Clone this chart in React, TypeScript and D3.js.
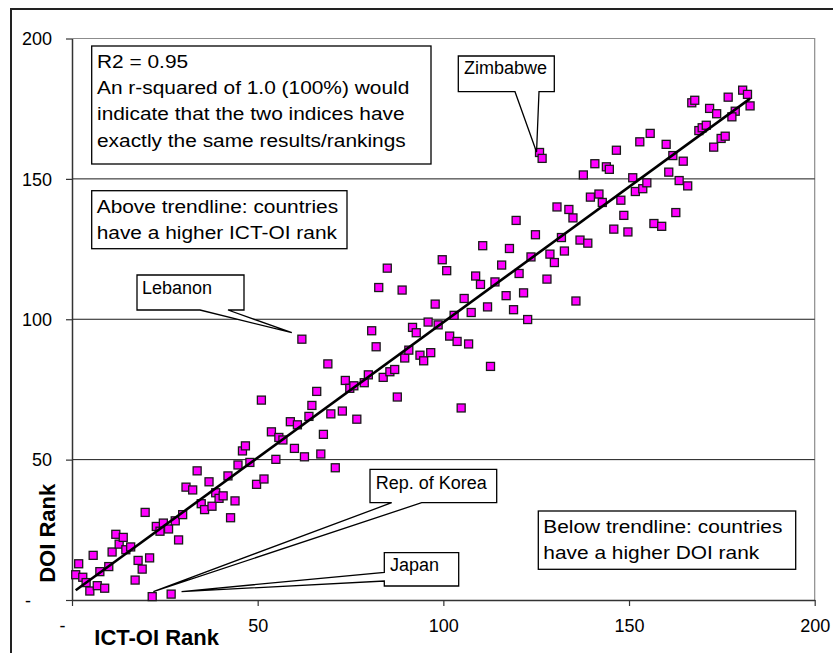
import React, { useEffect, useRef } from "react";
import * as d3 from "d3";

// ICT-OI rank (x) and DOI rank (y), one entry per country
const ictRank = [
  1.0, 1.8, 2.9, 3.8, 4.8, 5.7, 6.8, 7.5, 8.8, 9.9,
  10.8, 11.8, 12.7, 13.8, 14.5, 15.8, 17.0, 17.8, 18.9, 19.7,
  20.9, 21.6, 22.7, 23.7, 24.6, 26.0, 26.7, 27.8, 28.7, 29.8,
  30.7, 32.5, 33.7, 34.8, 35.7, 36.9, 37.7, 38.7, 39.6, 40.7,
  42.0, 42.7, 43.9, 44.7, 45.9, 46.7, 47.9, 49.7, 51.7, 51.0,
  53.7, 54.9, 55.7, 56.8, 58.8, 59.9, 60.7, 61.9, 62.6, 63.8,
  64.6, 65.9, 67.0, 67.7, 68.9, 69.7, 70.9, 72.8, 73.6, 74.8,
  75.9, 76.7, 78.7, 79.8, 80.7, 81.9, 83.8, 85.6, 86.9, 87.6,
  89.6, 90.7, 91.7, 92.7, 93.7,
  94.7, 96.6, 95.9, 98.6, 97.8, 101.7, 103.7, 102.9, 104.8, 105.6,
  106.8, 107.5, 84.9, 82.6, 88.9, 99.7, 100.9, 110.6, 108.7, 110.0,
  111.9, 112.7, 113.9, 115.7, 116.9, 117.8, 118.9, 120.4,
  125.9, 126.6, 119.6, 121.6, 123.6, 124.8, 127.9, 128.7, 129.9, 130.6,
  131.8, 132.6, 133.8, 134.9, 135.7, 136.8, 137.7, 138.9, 139.6, 140.8,
  141.9, 142.8, 143.9, 144.7, 145.9, 146.6, 147.8, 148.6, 149.7, 151.0,
  151.7, 152.9, 153.7, 154.8, 155.7, 156.7, 158.8, 160.0, 160.7, 161.8,
  162.6, 163.5, 122.7,
  164.6, 165.8, 166.9, 167.7, 171.7, 173.6, 176.7, 180.6, 181.9, 182.6,
  178.6, 177.7, 168.8, 169.7, 170.8, 172.8, 174.8, 175.9,
];
const doiRank = [
  9.0, 12.9, 8.1, 6.2, 3.2, 15.9, 5.1, 10.1, 4.2, 11.9,
  17.1, 23.4, 19.9, 22.3, 17.9, 18.9, 7.1, 14.1, 11.0, 31.2,
  15.0, 1.2, 26.2, 24.5, 27.4, 25.3, 2.1, 28.2, 21.4, 30.4,
  40.2, 39.2, 46.0, 34.3, 32.2, 42.1, 33.4, 38.2, 36.2, 37.1,
  44.2, 29.3, 35.3, 48.1, 53.1, 54.9, 49.0, 41.2, 43.1, 71.2,
  59.9, 50.1, 57.9, 57.0, 63.5, 54.0, 62.4, 92.9, 51.0, 65.4,
  69.3, 74.3, 52.0, 59.0, 84.1, 66.3, 47.1, 67.3, 78.2, 75.4,
  76.3, 64.4, 77.4, 80.2, 95.9, 90.2, 79.3, 81.3, 82.1, 72.3,
  86.2, 89.0, 97.1, 95.2, 87.2,
  85.2, 88.1, 99.0, 98.0, 105.4, 94.0, 92.1, 101.4, 68.4, 107.4,
  91.2, 102.4, 118.2, 111.3, 110.4, 121.2, 117.3, 126.2, 115.4, 112.4,
  104.4, 83.2, 113.3, 119.3, 108.4, 125.2, 103.4, 116.3,
  159.4, 157.3, 135.2, 109.4, 122.2, 130.1, 114.3, 123.2, 120.2, 140.0,
  129.1, 124.3, 139.1, 136.1, 106.5, 128.2, 151.4, 127.1, 143.5, 155.4,
  144.6, 141.6, 154.3, 153.4, 132.1, 160.2, 142.4, 137.0, 131.1, 150.4,
  145.5, 163.2, 146.5, 148.6, 166.2, 134.1, 133.1, 162.3, 152.4, 158.3,
  138.0, 149.4, 99.9,
  156.3, 147.5, 177.1, 178.0, 175.1, 173.2, 179.1, 181.6, 180.1, 176.0,
  174.1, 172.1, 167.2, 168.2, 169.1, 161.3, 164.4, 165.2,
];

const xTicks = [0, 50, 100, 150, 200];
const yTicks = [0, 50, 100, 150, 200];

// callouts: label and the point (ranks) the pointer tip sits on
const calloutLabels = ["Lebanon", "Zimbabwe", "Rep. of Korea", "Japan"];
const calloutTipIct = [59.2, 125.1, 21.9, 29.5];
const calloutTipDoi = [95.2, 159.6, 3.0, 3.0];

const noteR2 = [
  "R2 = 0.95",
  "An r-squared of 1.0 (100%) would",
  "indicate that the two indices have",
  "exactly the same results/rankings",
];
const noteAbove = ["Above trendline: countries", "have a higher ICT-OI rank"];
const noteBelow = ["Below trendline: countries", "have a higher DOI rank"];

export default function App() {
  const ref = useRef<SVGSVGElement>(null);

  useEffect(() => {
    const W = 833, H = 653;
    const font = "'Liberation Sans', Arial, sans-serif";
    const svg = d3.select(ref.current);
    svg.selectAll("*").remove();

    const x = d3.scaleLinear().domain([0, 200]).range([72, 814.7]);
    const y = d3.scaleLinear().domain([0, 200]).range([600, 38.5]);

    svg.append("rect").attr("width", W).attr("height", H).attr("fill", "#fff");

    // chart frame (runs off the right / bottom of the picture)
    svg.append("rect")
      .attr("x", 11).attr("y", 9).attr("width", W).attr("height", H)
      .attr("fill", "none").attr("stroke", "#222").attr("stroke-width", 2);

    // plot area border top/right
    svg.append("path")
      .attr("d", `M${x(0)},${y(200)}H${x(200)}V${y(0)}`)
      .attr("fill", "none").attr("stroke", "#8c8c8c").attr("stroke-width", 1.2);

    // gridlines
    svg.append("g")
      .selectAll("line")
      .data(yTicks.filter(d => d > 0 && d < 200))
      .join("line")
        .attr("x1", x(0)).attr("x2", x(200))
        .attr("y1", d => y(d)).attr("y2", d => y(d))
        .attr("stroke", "#1a1a1a").attr("stroke-width", 1);

    const yAxis = d3.axisLeft(y)
      .tickValues(yTicks).tickSize(6).tickSizeOuter(0).tickPadding(14)
      .tickFormat(d => (d === 0 ? "-" : String(d)));
    svg.append("g")
      .attr("transform", `translate(${x(0)},0)`)
      .call(yAxis)
      .attr("font-size", 18).attr("font-family", font)
      .call(g => g.select(".domain").attr("stroke", "#333").attr("stroke-width", 1.5))
      .call(g => g.selectAll(".tick line").attr("stroke", "#333").attr("stroke-width", 1.2))
      .call(g => g.selectAll(".tick text").attr("fill", "#000")
        .attr("dx", (d: any) => (d === 0 ? -21 : 0)).attr("dy", "0.35em"));

    const xAxis = d3.axisBottom(x)
      .tickValues(xTicks).tickSize(6).tickSizeOuter(0).tickPadding(13)
      .tickFormat(d => (d === 0 ? "-" : String(d)));
    svg.append("g")
      .attr("transform", `translate(0,${y(0)})`)
      .call(xAxis)
      .attr("font-size", 18).attr("font-family", font)
      .call(g => g.select(".domain").attr("stroke", "#333").attr("stroke-width", 1.5))
      .call(g => g.selectAll(".tick line").attr("stroke", "#333").attr("stroke-width", 1.2))
      .call(g => g.selectAll(".tick text").attr("fill", "#000")
        .attr("dx", (d: any) => (d === 0 ? -10 : 0)));

    // points
    const pts = ictRank.map((v, i) => ({ ict: v, doi: doiRank[i] }));
    const s = 8;
    svg.append("g")
      .selectAll("rect")
      .data(pts)
      .join("rect")
        .attr("x", d => x(d.ict) - s / 2)
        .attr("y", d => y(d.doi) - s / 2)
        .attr("width", s).attr("height", s)
        .attr("fill", "#ff00ff").attr("stroke", "#1a1a1a").attr("stroke-width", 1.3);

    // linear trendline (least squares)
    const mx = d3.mean(ictRank) as number;
    const my = d3.mean(doiRank) as number;
    let sxy = 0, sxx = 0;
    ictRank.forEach((v, i) => {
      sxy += (v - mx) * (doiRank[i] - my);
      sxx += (v - mx) * (v - mx);
    });
    const slope = sxy / sxx;
    const icpt = my - slope * mx;
    const [xa, xb] = d3.extent(ictRank) as [number, number];
    svg.append("line")
      .attr("x1", x(xa)).attr("y1", y(icpt + slope * xa))
      .attr("x2", x(xb)).attr("y2", y(icpt + slope * xb))
      .attr("stroke", "#000").attr("stroke-width", 2.6);

    // callouts
    const tips = calloutLabels.map((_, i) => [x(calloutTipIct[i]), y(calloutTipDoi[i])]);
    const calloutPaths = [
      // Lebanon: pointer from bottom edge
      (t: number[]) => `M137,275H244V310H228L${t[0]},${t[1]}L200,310H137Z`,
      // Zimbabwe
      (t: number[]) => `M458.3,56H554.3V91.7H539L${t[0]},${t[1]}L515,91.7H458.3Z`,
      // Rep. of Korea
      (t: number[]) => `M370,469.3H496.7V502.7H421.7L${t[0]},${t[1]}L391.7,502.7H370Z`,
      // Japan: pointer from left edge
      (t: number[]) => `M384.3,552.7H458.7V586H384.3V581L${t[0]},${t[1]}L384.3,572.3Z`,
    ];
    const calloutText = [[142, 293.5], [464, 73.5], [375.7, 488.5], [390, 571]];
    const cg = svg.append("g");
    calloutLabels.forEach((label, i) => {
      cg.append("path")
        .attr("d", calloutPaths[i](tips[i]))
        .attr("fill", "#fff").attr("stroke", "#000").attr("stroke-width", 1.3)
        .attr("stroke-linejoin", "miter");
      cg.append("text")
        .attr("x", calloutText[i][0]).attr("y", calloutText[i][1])
        .attr("font-family", font).attr("font-size", 18).attr("fill", "#000")
        .text(label);
    });

    // text boxes
    const note = (lines: string[], bx: number, by: number, bw: number, bh: number,
                  tx: number, ty0: number, lh: number) => {
      const g = svg.append("g");
      g.append("rect")
        .attr("x", bx).attr("y", by).attr("width", bw).attr("height", bh)
        .attr("fill", "#fff").attr("stroke", "#000").attr("stroke-width", 1.3);
      lines.forEach((ln, i) => {
        g.append("text")
          .attr("transform", `translate(${tx},${ty0 + i * lh}) scale(1.13,1)`)
          .attr("font-family", font).attr("font-size", 18.5).attr("fill", "#000")
          .text(ln);
      });
    };
    note(noteR2, 91.7, 46, 339.3, 118, 97, 67.7, 26.3);
    note(noteAbove, 91.7, 190.7, 255.3, 58, 96.7, 213.3, 26);
    note(noteBelow, 538.3, 511, 257.4, 58.3, 543.3, 532.6, 26.7);

    // axis titles
    svg.append("text")
      .attr("x", 94.3).attr("y", 645)
      .attr("font-family", font).attr("font-size", 22).attr("font-weight", "bold")
      .text("ICT-OI Rank");
    svg.append("text")
      .attr("transform", `translate(55,533.3) rotate(-90)`)
      .attr("text-anchor", "middle")
      .attr("font-family", font).attr("font-size", 22).attr("font-weight", "bold")
      .text("DOI Rank");
  }, []);

  return (
    <svg
      ref={ref}
      width={833}
      height={653}
      style={{ position: "absolute", left: 0, top: 0, display: "block" }}
    />
  );
}
